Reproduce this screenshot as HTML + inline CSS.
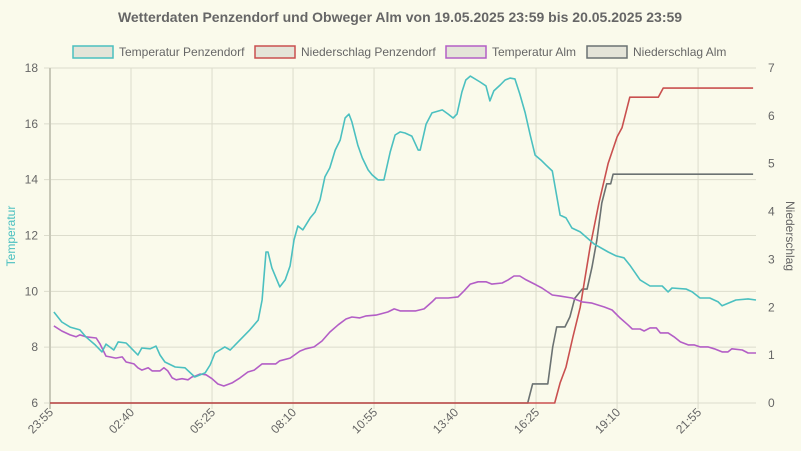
<!DOCTYPE html>
<html><head><meta charset="utf-8"><style>
body{margin:0;background:#fafaeb;}
svg{display:block;font-family:"Liberation Sans",sans-serif;}
</style></head><body>
<svg id="c" width="801" height="451">
<rect width="801" height="451" fill="#fafaeb"/>
<text x="400" y="22" text-anchor="middle" font-size="14" font-weight="bold" fill="#666">Wetterdaten Penzendorf und Obweger Alm von 19.05.2025 23:59 bis 20.05.2025 23:59</text>
<g id="grid"></g><g id="axes"></g><g id="series"></g>
<g id="legend"></g>
<text transform="translate(15,236) rotate(-90)" text-anchor="middle" font-size="12" fill="#4bc0c0">Temperatur</text>
<text transform="translate(786,236) rotate(90)" text-anchor="middle" font-size="12" fill="#666">Niederschlag</text>
</svg>
<script>
const xTickLabels=["23:55","02:40","05:25","08:10","10:55","13:40","16:25","19:10","21:55"];
const leftTicks=[6,8,10,12,14,16,18];
const rightTicks=[0,1,2,3,4,5,6,7];
const tempPenzT=[8,24,41,61,73,92,106,114,130,139,155,173,179,187,204,216,224,234,255,275,295,316,326,336,356,367,387,407,424,432,440,444,452,468,479,489,497,505,515,530,540,550,560,570,581,591,601,609,615,627,636,648,656,668,680,693,703,713,723,737,750,754,766,778,799,811,821,829,839,847,856,876,888,896,904,917,927,937,947,957,968,978,988,1000,1010,1023,1039,1051,1063,1080,1108,1137,1153,1169,1181,1202,1222,1247,1259,1267,1296,1308,1324,1344,1361,1369,1397,1422,1438];
const tempPenzV=[9.26,8.90,8.72,8.62,8.37,8.08,7.83,8.11,7.90,8.19,8.15,7.83,7.72,7.97,7.94,8.04,7.72,7.47,7.29,7.26,6.93,7.08,7.36,7.79,8.01,7.90,8.26,8.62,8.97,9.69,11.41,11.41,10.84,10.16,10.41,10.91,11.84,12.34,12.20,12.63,12.84,13.27,14.10,14.42,15.06,15.42,16.21,16.35,16.07,15.24,14.78,14.35,14.17,13.99,13.99,14.99,15.60,15.71,15.67,15.56,15.06,15.06,15.99,16.39,16.50,16.35,16.21,16.35,17.14,17.57,17.71,17.50,17.36,16.82,17.18,17.39,17.57,17.64,17.61,17.07,16.39,15.60,14.88,14.70,14.53,14.31,12.73,12.63,12.27,12.13,11.70,11.41,11.27,11.20,10.94,10.41,10.19,10.19,9.98,10.12,10.08,9.98,9.76,9.76,9.62,9.48,9.69,9.73,9.69];
const tempAlmT=[8,24,41,53,61,73,94,102,114,122,134,147,155,171,179,187,200,208,224,232,240,249,257,269,281,289,297,306,318,330,342,354,371,387,403,416,432,444,460,468,489,509,521,538,554,570,587,603,615,631,644,664,688,701,713,745,762,778,786,811,831,843,856,872,888,900,921,933,945,957,970,990,1002,1023,1039,1063,1084,1104,1116,1129,1145,1161,1177,1186,1202,1210,1222,1235,1243,1259,1271,1284,1300,1312,1324,1340,1353,1369,1381,1389,1410,1422,1438];
const tempAlmV=[8.76,8.58,8.44,8.37,8.44,8.37,8.33,8.11,7.68,7.65,7.61,7.65,7.47,7.40,7.26,7.18,7.26,7.15,7.15,7.26,7.15,6.90,6.83,6.87,6.83,6.93,6.97,7.04,7.01,6.87,6.68,6.61,6.72,6.90,7.11,7.18,7.40,7.40,7.40,7.51,7.61,7.86,7.94,8.01,8.22,8.54,8.80,9.01,9.08,9.05,9.12,9.15,9.26,9.37,9.30,9.30,9.37,9.62,9.76,9.76,9.80,10.01,10.26,10.34,10.34,10.26,10.30,10.41,10.55,10.55,10.41,10.23,10.12,9.87,9.83,9.76,9.62,9.58,9.51,9.44,9.33,9.05,8.80,8.65,8.65,8.58,8.69,8.69,8.51,8.51,8.37,8.19,8.08,8.08,8.01,8.01,7.94,7.83,7.83,7.94,7.90,7.79,7.79];
const rainPenzT=[0,1028,1039,1051,1065,1080,1100,1118,1137,1155,1165,1181,1239,1249,1432];
const rainPenzV=[0,0,0.42,0.75,1.38,2.0,3.26,4.18,5.01,5.56,5.75,6.39,6.39,6.58,6.58];
const rainAlmT=[0,973,983,1014,1024,1032,1049,1059,1069,1084,1094,1104,1114,1124,1134,1142,1147,1432];
const rainAlmV=[0,0,0.4,0.4,1.17,1.59,1.59,1.80,2.19,2.38,2.38,2.84,3.41,4.18,4.58,4.58,4.78,4.78];

const NS="http://www.w3.org/2000/svg";
const X0=50,X1=756,Y0=403,Y1=68,TMAX=1438;
const xs=t=>X0+t*(X1-X0)/TMAX;
const yL=v=>Y0-(v-6)*(Y0-Y1)/12;
const yR=v=>Y0-v*(Y0-Y1)/7;
function mk(tag,attrs,parent){const e=document.createElementNS(NS,tag);for(const k in attrs)e.setAttribute(k,attrs[k]);parent.appendChild(e);return e;}
const grid=document.getElementById('grid'),axes=document.getElementById('axes'),ser=document.getElementById('series'),leg=document.getElementById('legend');
leftTicks.forEach(v=>{const y=yL(v);
 const l=mk('line',{x1:X0-6,x2:X1,y1:y,y2:y,stroke:'#dcdccc','stroke-width':1},grid);
 
 
 const t=mk('text',{x:38,y:y+4,'text-anchor':'end','font-size':12,fill:'#666'},axes);t.textContent=v;
 
 
});
rightTicks.forEach(v=>{const y=yR(v);
 const t=mk('text',{x:768,y:y+4,'font-size':12,fill:'#666'},axes);t.textContent=v;
 
 
});
xTickLabels.forEach((s,i)=>{const x=X0+i*165*(X1-X0)/TMAX;
 const l=mk('line',{x1:x,x2:x,y1:Y1,y2:Y0+6,stroke:i==0?'#c8c8b8':'#dcdccc','stroke-width':i==0?2:1},grid);
 
 
 const t=mk('text',{transform:`translate(${x+4},${Y0+10}) rotate(-45)`,'text-anchor':'end','font-size':12,fill:'#666'},axes);t.textContent=s;
 
 
});
function line(T,V,ys,color,name){
 const d=T.map((t,i)=>(i?'L':'M')+xs(t).toFixed(1)+','+ys(V[i]).toFixed(1)).join('');
 const p=mk('path',{d:d,fill:'none',stroke:color,'stroke-width':1.6,'stroke-linejoin':'round'},ser);
 
 
}
line(rainAlmT,rainAlmV,yR,'#6b7272','series-niederschlag-alm');
line(rainPenzT,rainPenzV,yR,'#c9504f','series-niederschlag-penzendorf');
line(tempAlmT,tempAlmV,yL,'#b35ec6','series-temperatur-alm');
line(tempPenzT,tempPenzV,yL,'#4bc0c0','series-temperatur-penzendorf');
const legItems=[["Temperatur Penzendorf","#4bc0c0",73],["Niederschlag Penzendorf","#c9504f",255],["Temperatur Alm","#b35ec6",446],["Niederschlag Alm","#6b7272",587]];
legItems.forEach(([s,c,x])=>{
 const g=mk('g',{},leg);
 
 
 mk('rect',{x:x,y:46,width:40,height:12,fill:'#e4e4d8',stroke:c,'stroke-width':1.5},g);
 const t=mk('text',{x:x+46,y:56,'font-size':12,fill:'#666'},g);t.textContent=s;
});
</script>
</body></html>
